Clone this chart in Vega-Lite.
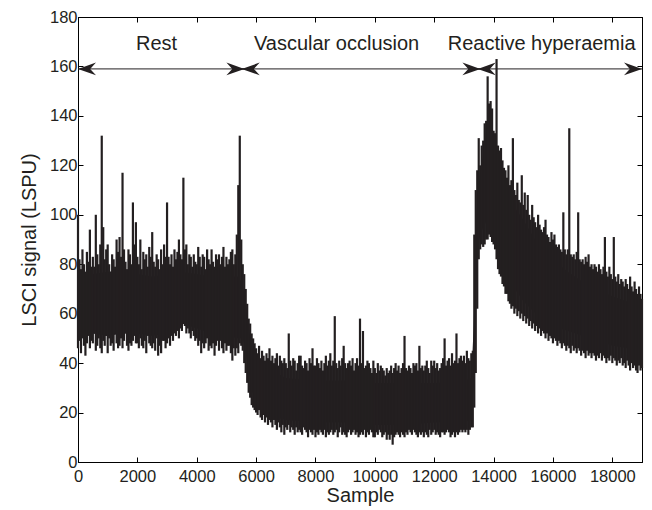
{
"$schema": "https://vega.github.io/schema/vega-lite/v6.json",
"width": 564, "height": 445,
"autosize": {"type": "none"},
"padding": {"left": 78, "top": 17, "right": 10, "bottom": 48},
"background": "white",
"config": {
  "view": {"stroke": "#000", "strokeWidth": 1},
  "axis": {"grid": false, "domainColor": "#000", "tickColor": "#000", "tickSize": -5, "labelFont": "Liberation Sans", "labelFontSize": 16.5, "labelColor": "#231f20", "titleFont": "Liberation Sans", "titleFontSize": 20, "titleFontWeight": "normal", "titleColor": "#231f20"}
},
"datasets": {
"signal": [
{"s":0,"lo":46,"hi":100},{"s":50,"lo":49,"hi":82},{"s":100,"lo":44,"hi":78},{"s":150,"lo":50,"hi":86},{"s":200,"lo":47,"hi":80},{"s":250,"lo":43,"hi":77},{"s":300,"lo":48,"hi":85},{"s":350,"lo":51,"hi":81},{"s":400,"lo":46,"hi":94},{"s":450,"lo":49,"hi":79},
{"s":500,"lo":48,"hi":83},{"s":550,"lo":52,"hi":79},{"s":600,"lo":45,"hi":100},{"s":650,"lo":47,"hi":84},{"s":700,"lo":50,"hi":80},{"s":750,"lo":46,"hi":88},{"s":800,"lo":44,"hi":132},{"s":850,"lo":49,"hi":95},{"s":900,"lo":47,"hi":82},{"s":950,"lo":51,"hi":86},
{"s":1000,"lo":44,"hi":88},{"s":1050,"lo":50,"hi":80},{"s":1100,"lo":47,"hi":77},{"s":1150,"lo":48,"hi":84},{"s":1200,"lo":45,"hi":82},{"s":1250,"lo":52,"hi":79},{"s":1300,"lo":48,"hi":90},{"s":1350,"lo":46,"hi":85},{"s":1400,"lo":47,"hi":91},{"s":1450,"lo":50,"hi":83},
{"s":1500,"lo":46,"hi":117},{"s":1550,"lo":49,"hi":86},{"s":1600,"lo":52,"hi":81},{"s":1650,"lo":47,"hi":78},{"s":1700,"lo":45,"hi":86},{"s":1750,"lo":48,"hi":84},{"s":1800,"lo":47,"hi":80},{"s":1850,"lo":49,"hi":105},{"s":1900,"lo":51,"hi":88},{"s":1950,"lo":48,"hi":97},
{"s":2000,"lo":48,"hi":83},{"s":2050,"lo":46,"hi":80},{"s":2100,"lo":50,"hi":90},{"s":2150,"lo":47,"hi":78},{"s":2200,"lo":46,"hi":85},{"s":2250,"lo":49,"hi":82},{"s":2300,"lo":44,"hi":84},{"s":2350,"lo":51,"hi":79},{"s":2400,"lo":48,"hi":87},{"s":2450,"lo":47,"hi":83},
{"s":2500,"lo":46,"hi":93},{"s":2550,"lo":48,"hi":81},{"s":2600,"lo":45,"hi":79},{"s":2650,"lo":50,"hi":84},{"s":2700,"lo":43,"hi":82},{"s":2750,"lo":47,"hi":78},{"s":2800,"lo":44,"hi":86},{"s":2850,"lo":49,"hi":80},{"s":2900,"lo":49,"hi":88},{"s":2950,"lo":46,"hi":83},
{"s":3000,"lo":48,"hi":105},{"s":3050,"lo":50,"hi":83},{"s":3100,"lo":47,"hi":80},{"s":3150,"lo":51,"hi":84},{"s":3200,"lo":49,"hi":79},{"s":3250,"lo":52,"hi":86},{"s":3300,"lo":51,"hi":82},{"s":3350,"lo":53,"hi":85},{"s":3400,"lo":50,"hi":90},{"s":3450,"lo":54,"hi":84},
{"s":3500,"lo":53,"hi":82},{"s":3550,"lo":56,"hi":115},{"s":3600,"lo":55,"hi":86},{"s":3650,"lo":52,"hi":88},{"s":3700,"lo":54,"hi":80},{"s":3750,"lo":52,"hi":84},{"s":3800,"lo":50,"hi":83},{"s":3850,"lo":53,"hi":79},{"s":3900,"lo":51,"hi":84},{"s":3950,"lo":49,"hi":81},
{"s":4000,"lo":50,"hi":80},{"s":4050,"lo":47,"hi":87},{"s":4100,"lo":49,"hi":83},{"s":4150,"lo":44,"hi":79},{"s":4200,"lo":48,"hi":84},{"s":4250,"lo":46,"hi":83},{"s":4300,"lo":48,"hi":78},{"s":4350,"lo":50,"hi":86},{"s":4400,"lo":45,"hi":82},{"s":4450,"lo":47,"hi":80},
{"s":4500,"lo":46,"hi":86},{"s":4550,"lo":48,"hi":81},{"s":4600,"lo":43,"hi":79},{"s":4650,"lo":47,"hi":84},{"s":4700,"lo":49,"hi":82},{"s":4750,"lo":45,"hi":84},{"s":4800,"lo":49,"hi":80},{"s":4850,"lo":46,"hi":83},{"s":4900,"lo":44,"hi":87},{"s":4950,"lo":48,"hi":79},
{"s":5000,"lo":45,"hi":83},{"s":5050,"lo":47,"hi":80},{"s":5100,"lo":47,"hi":82},{"s":5150,"lo":44,"hi":85},{"s":5200,"lo":41,"hi":86},{"s":5250,"lo":46,"hi":80},{"s":5300,"lo":43,"hi":84},{"s":5350,"lo":46,"hi":92},{"s":5400,"lo":44,"hi":112},{"s":5450,"lo":48,"hi":132},
{"s":5500,"lo":47,"hi":90},{"s":5550,"lo":45,"hi":80},{"s":5600,"lo":40,"hi":76},{"s":5650,"lo":36,"hi":70},{"s":5700,"lo":32,"hi":64},{"s":5750,"lo":28,"hi":58},{"s":5800,"lo":26,"hi":56},{"s":5850,"lo":23,"hi":52},{"s":5900,"lo":22,"hi":50},{"s":5950,"lo":21,"hi":48},
{"s":6000,"lo":20,"hi":46},{"s":6050,"lo":19,"hi":44},{"s":6100,"lo":21,"hi":47},{"s":6150,"lo":18,"hi":42},{"s":6200,"lo":17,"hi":45},{"s":6250,"lo":19,"hi":43},{"s":6300,"lo":16,"hi":41},{"s":6350,"lo":18,"hi":44},{"s":6400,"lo":15,"hi":42},{"s":6450,"lo":17,"hi":46},
{"s":6500,"lo":16,"hi":41},{"s":6550,"lo":14,"hi":43},{"s":6600,"lo":17,"hi":40},{"s":6650,"lo":15,"hi":42},{"s":6700,"lo":13,"hi":44},{"s":6750,"lo":16,"hi":39},{"s":6800,"lo":14,"hi":43},{"s":6850,"lo":12,"hi":41},{"s":6900,"lo":15,"hi":40},{"s":6950,"lo":11,"hi":42},
{"s":7000,"lo":14,"hi":40},{"s":7050,"lo":13,"hi":38},{"s":7100,"lo":15,"hi":52},{"s":7150,"lo":12,"hi":41},{"s":7200,"lo":14,"hi":39},{"s":7250,"lo":13,"hi":42},{"s":7300,"lo":11,"hi":41},{"s":7350,"lo":14,"hi":37},{"s":7400,"lo":12,"hi":40},{"s":7450,"lo":13,"hi":43},
{"s":7500,"lo":12,"hi":43},{"s":7550,"lo":11,"hi":39},{"s":7600,"lo":14,"hi":38},{"s":7650,"lo":13,"hi":41},{"s":7700,"lo":12,"hi":40},{"s":7750,"lo":10,"hi":37},{"s":7800,"lo":13,"hi":42},{"s":7850,"lo":12,"hi":40},{"s":7900,"lo":11,"hi":46},{"s":7950,"lo":13,"hi":39},
{"s":8000,"lo":10,"hi":39},{"s":8050,"lo":12,"hi":42},{"s":8100,"lo":11,"hi":40},{"s":8150,"lo":13,"hi":38},{"s":8200,"lo":12,"hi":41},{"s":8250,"lo":11,"hi":37},{"s":8300,"lo":13,"hi":40},{"s":8350,"lo":10,"hi":43},{"s":8400,"lo":12,"hi":39},{"s":8450,"lo":11,"hi":41},
{"s":8500,"lo":12,"hi":44},{"s":8550,"lo":13,"hi":39},{"s":8600,"lo":11,"hi":41},{"s":8650,"lo":12,"hi":59},{"s":8700,"lo":13,"hi":40},{"s":8750,"lo":10,"hi":38},{"s":8800,"lo":12,"hi":41},{"s":8850,"lo":14,"hi":39},{"s":8900,"lo":11,"hi":42},{"s":8950,"lo":12,"hi":47},
{"s":9000,"lo":11,"hi":40},{"s":9050,"lo":10,"hi":38},{"s":9100,"lo":12,"hi":40},{"s":9150,"lo":13,"hi":41},{"s":9200,"lo":11,"hi":39},{"s":9250,"lo":12,"hi":42},{"s":9300,"lo":13,"hi":37},{"s":9350,"lo":11,"hi":40},{"s":9400,"lo":12,"hi":42},{"s":9450,"lo":10,"hi":39},
{"s":9500,"lo":11,"hi":58},{"s":9550,"lo":12,"hi":40},{"s":9600,"lo":11,"hi":53},{"s":9650,"lo":13,"hi":38},{"s":9700,"lo":10,"hi":39},{"s":9750,"lo":12,"hi":41},{"s":9800,"lo":11,"hi":40},{"s":9850,"lo":13,"hi":38},{"s":9900,"lo":12,"hi":36},{"s":9950,"lo":10,"hi":41},
{"s":10000,"lo":10,"hi":38},{"s":10050,"lo":12,"hi":36},{"s":10100,"lo":11,"hi":40},{"s":10150,"lo":13,"hi":37},{"s":10200,"lo":12,"hi":39},{"s":10250,"lo":10,"hi":38},{"s":10300,"lo":11,"hi":37},{"s":10350,"lo":12,"hi":35},{"s":10400,"lo":9,"hi":38},{"s":10450,"lo":11,"hi":36},
{"s":10500,"lo":9,"hi":37},{"s":10550,"lo":11,"hi":39},{"s":10600,"lo":7,"hi":36},{"s":10650,"lo":10,"hi":38},{"s":10700,"lo":11,"hi":40},{"s":10750,"lo":12,"hi":37},{"s":10800,"lo":11,"hi":39},{"s":10850,"lo":10,"hi":36},{"s":10900,"lo":12,"hi":38},{"s":10950,"lo":11,"hi":40},
{"s":11000,"lo":10,"hi":51},{"s":11050,"lo":12,"hi":38},{"s":11100,"lo":11,"hi":37},{"s":11150,"lo":13,"hi":39},{"s":11200,"lo":12,"hi":38},{"s":11250,"lo":11,"hi":36},{"s":11300,"lo":13,"hi":40},{"s":11350,"lo":12,"hi":39},{"s":11400,"lo":11,"hi":40},{"s":11450,"lo":10,"hi":37},
{"s":11500,"lo":12,"hi":47},{"s":11550,"lo":11,"hi":38},{"s":11600,"lo":12,"hi":39},{"s":11650,"lo":10,"hi":37},{"s":11700,"lo":12,"hi":39},{"s":11750,"lo":11,"hi":41},{"s":11800,"lo":10,"hi":38},{"s":11850,"lo":13,"hi":36},{"s":11900,"lo":11,"hi":41},{"s":11950,"lo":12,"hi":39},
{"s":12000,"lo":13,"hi":41},{"s":12050,"lo":11,"hi":38},{"s":12100,"lo":12,"hi":40},{"s":12150,"lo":11,"hi":37},{"s":12200,"lo":10,"hi":38},{"s":12250,"lo":12,"hi":40},{"s":12300,"lo":12,"hi":42},{"s":12350,"lo":11,"hi":50},{"s":12400,"lo":12,"hi":39},{"s":12450,"lo":13,"hi":41},
{"s":12500,"lo":12,"hi":42},{"s":12550,"lo":10,"hi":39},{"s":12600,"lo":11,"hi":44},{"s":12650,"lo":12,"hi":40},{"s":12700,"lo":10,"hi":41},{"s":12750,"lo":12,"hi":52},{"s":12800,"lo":11,"hi":40},{"s":12850,"lo":12,"hi":42},{"s":12900,"lo":13,"hi":43},{"s":12950,"lo":12,"hi":41},
{"s":13000,"lo":13,"hi":43},{"s":13050,"lo":12,"hi":40},{"s":13100,"lo":13,"hi":45},{"s":13150,"lo":11,"hi":42},{"s":13200,"lo":13,"hi":41},{"s":13250,"lo":14,"hi":44},
{"s":13300,"lo":14,"hi":45},{"s":13350,"lo":22,"hi":92},{"s":13400,"lo":36,"hi":110},{"s":13450,"lo":62,"hi":118},{"s":13500,"lo":82,"hi":131},{"s":13550,"lo":86,"hi":120},{"s":13600,"lo":88,"hi":128},{"s":13650,"lo":87,"hi":130},{"s":13700,"lo":88,"hi":137},{"s":13750,"lo":90,"hi":138},
{"s":13800,"lo":90,"hi":156},{"s":13850,"lo":92,"hi":145},{"s":13900,"lo":91,"hi":146},{"s":13950,"lo":89,"hi":143},{"s":14000,"lo":88,"hi":134},{"s":14050,"lo":86,"hi":133},{"s":14100,"lo":82,"hi":163},{"s":14150,"lo":78,"hi":128},{"s":14200,"lo":76,"hi":126},{"s":14250,"lo":75,"hi":127},
{"s":14300,"lo":72,"hi":122},{"s":14350,"lo":71,"hi":119},{"s":14400,"lo":68,"hi":118},{"s":14450,"lo":68,"hi":115},{"s":14500,"lo":65,"hi":120},{"s":14550,"lo":64,"hi":112},{"s":14600,"lo":62,"hi":114},{"s":14650,"lo":63,"hi":131},{"s":14700,"lo":60,"hi":110},{"s":14750,"lo":62,"hi":108},
{"s":14800,"lo":59,"hi":113},{"s":14850,"lo":61,"hi":106},{"s":14900,"lo":58,"hi":105},{"s":14950,"lo":60,"hi":116},{"s":15000,"lo":57,"hi":104},{"s":15050,"lo":59,"hi":109},{"s":15100,"lo":56,"hi":102},{"s":15150,"lo":58,"hi":108},{"s":15200,"lo":55,"hi":100},{"s":15250,"lo":57,"hi":98},
{"s":15300,"lo":54,"hi":104},{"s":15350,"lo":56,"hi":99},{"s":15400,"lo":53,"hi":97},{"s":15450,"lo":55,"hi":95},{"s":15500,"lo":52,"hi":100},{"s":15550,"lo":54,"hi":96},{"s":15600,"lo":51,"hi":94},{"s":15650,"lo":53,"hi":93},{"s":15700,"lo":52,"hi":95},{"s":15750,"lo":50,"hi":98},
{"s":15800,"lo":52,"hi":92},{"s":15850,"lo":49,"hi":91},{"s":15900,"lo":51,"hi":89},{"s":15950,"lo":50,"hi":93},{"s":16000,"lo":48,"hi":90},{"s":16050,"lo":50,"hi":92},{"s":16100,"lo":49,"hi":88},{"s":16150,"lo":47,"hi":87},{"s":16200,"lo":49,"hi":88},{"s":16250,"lo":48,"hi":86},
{"s":16300,"lo":46,"hi":85},{"s":16350,"lo":48,"hi":101},{"s":16400,"lo":47,"hi":86},{"s":16450,"lo":45,"hi":84},{"s":16500,"lo":47,"hi":86},{"s":16550,"lo":46,"hi":135},{"s":16600,"lo":44,"hi":84},{"s":16650,"lo":47,"hi":83},{"s":16700,"lo":45,"hi":84},{"s":16750,"lo":46,"hi":82},
{"s":16800,"lo":44,"hi":85},{"s":16850,"lo":46,"hi":101},{"s":16900,"lo":45,"hi":82},{"s":16950,"lo":43,"hi":81},{"s":17000,"lo":45,"hi":82},{"s":17050,"lo":44,"hi":80},{"s":17100,"lo":42,"hi":83},{"s":17150,"lo":45,"hi":81},{"s":17200,"lo":43,"hi":84},{"s":17250,"lo":44,"hi":79},
{"s":17300,"lo":42,"hi":80},{"s":17350,"lo":44,"hi":78},{"s":17400,"lo":43,"hi":80},{"s":17450,"lo":41,"hi":79},{"s":17500,"lo":43,"hi":77},{"s":17550,"lo":42,"hi":80},{"s":17600,"lo":44,"hi":78},{"s":17650,"lo":41,"hi":76},{"s":17700,"lo":43,"hi":79},{"s":17750,"lo":42,"hi":91},
{"s":17800,"lo":40,"hi":77},{"s":17850,"lo":42,"hi":75},{"s":17900,"lo":41,"hi":79},{"s":17950,"lo":43,"hi":76},{"s":18000,"lo":40,"hi":74},{"s":18050,"lo":42,"hi":91},{"s":18100,"lo":41,"hi":75},{"s":18150,"lo":39,"hi":73},{"s":18200,"lo":41,"hi":76},{"s":18250,"lo":40,"hi":72},
{"s":18300,"lo":42,"hi":74},{"s":18350,"lo":39,"hi":73},{"s":18400,"lo":40,"hi":71},{"s":18450,"lo":38,"hi":74},{"s":18500,"lo":41,"hi":72},{"s":18550,"lo":39,"hi":70},{"s":18600,"lo":37,"hi":75},{"s":18650,"lo":40,"hi":71},{"s":18700,"lo":38,"hi":69},{"s":18750,"lo":39,"hi":73},
{"s":18800,"lo":37,"hi":70},{"s":18850,"lo":36,"hi":68},{"s":18900,"lo":39,"hi":71},{"s":18950,"lo":37,"hi":68},{"s":19000,"lo":38,"hi":66}
],
"core": [
{"s":0,"lo":52,"hi":76},{"s":500,"lo":52,"hi":76},{"s":1000,"lo":51,"hi":77},{"s":1500,"lo":52,"hi":77},{"s":2000,"lo":52,"hi":76},{"s":2500,"lo":51,"hi":75},{"s":3000,"lo":52,"hi":76},{"s":3500,"lo":56,"hi":77},{"s":4000,"lo":54,"hi":76},{"s":4500,"lo":52,"hi":75},
{"s":5000,"lo":51,"hi":75},{"s":5400,"lo":50,"hi":75},{"s":5550,"lo":50,"hi":72},{"s":5650,"lo":44,"hi":64},{"s":5750,"lo":36,"hi":55},{"s":5850,"lo":29,"hi":47},{"s":6000,"lo":24,"hi":41},{"s":6300,"lo":21,"hi":38},{"s":6700,"lo":18,"hi":36},{"s":7000,"lo":17,"hi":34},
{"s":8000,"lo":16,"hi":33},{"s":9000,"lo":16,"hi":33},{"s":10000,"lo":15,"hi":32},{"s":11000,"lo":15,"hi":32},{"s":12000,"lo":16,"hi":32},{"s":13000,"lo":16,"hi":33},{"s":13250,"lo":17,"hi":34},{"s":13330,"lo":30,"hi":55},{"s":13420,"lo":72,"hi":100},{"s":13520,"lo":90,"hi":115},
{"s":13650,"lo":95,"hi":125},{"s":13800,"lo":98,"hi":138},{"s":13950,"lo":95,"hi":135},{"s":14100,"lo":88,"hi":125},{"s":14300,"lo":80,"hi":115},{"s":14600,"lo":72,"hi":105},{"s":15000,"lo":65,"hi":98},{"s":15500,"lo":59,"hi":88},{"s":16000,"lo":55,"hi":82},{"s":16500,"lo":53,"hi":77},
{"s":17000,"lo":51,"hi":73},{"s":17500,"lo":49,"hi":70},{"s":18000,"lo":47,"hi":67},{"s":18500,"lo":46,"hi":65},{"s":19000,"lo":44,"hi":63}
],
"arrows": [
{"a":0,"b":5606,"m":2647,"lab":"Rest"},
{"a":5515,"b":13557,"m":8711,"lab":"Vascular occlusion"},
{"a":13466,"b":19000,"m":15620,"lab":"Reactive hyperaemia"}
]
},
"resolve": {"axis": {"x": "independent", "y": "independent"}},
"layer": [
{"data": {"name": "core"},
 "mark": {"type": "area", "color": "#231f20", "opacity": 1},
 "encoding": {
  "x": {"field": "s", "type": "quantitative", "axis": null},
  "y": {"field": "lo", "type": "quantitative", "axis": null},
  "y2": {"field": "hi"}
 }},
{"data": {"name": "signal"},
 "mark": {"type": "rule", "color": "#231f20", "strokeWidth": 2.2},
 "encoding": {
  "x": {"field": "s", "type": "quantitative", "scale": {"domain": [0, 19000], "nice": false, "zero": false},
        "axis": {"orient": "bottom", "values": [0,2000,4000,6000,8000,10000,12000,14000,16000,18000], "format": "d", "title": "Sample", "labelPadding": 11, "titlePadding": 1, "labelFlush": false}},
  "y": {"field": "lo", "type": "quantitative", "scale": {"domain": [0, 180], "nice": false},
        "axis": {"orient": "left", "values": [0,20,40,60,80,100,120,140,160,180], "title": "LSCI signal (LSPU)", "labelPadding": 6, "titlePadding": 10}},
  "y2": {"field": "hi"}
 }},
{"data": {"name": "arrows"},
 "mark": {"type": "rule", "color": "#231f20", "strokeWidth": 1},
 "encoding": {
  "x": {"field": "a", "type": "quantitative", "axis": {"orient": "top", "labels": false, "title": null, "values": [0,2000,4000,6000,8000,10000,12000,14000,16000,18000]}},
  "x2": {"field": "b"},
  "y": {"datum": 159, "type": "quantitative", "axis": {"orient": "right", "labels": false, "title": null, "values": [0,20,40,60,80,100,120,140,160,180]}}
 }},
{"data": {"name": "arrows"},
 "mark": {"type": "point", "shape": "M0,0L2,-0.7L1.35,0L2,0.7Z", "size": 324, "filled": true, "color": "#231f20", "opacity": 1, "strokeWidth": 0},
 "encoding": {
  "x": {"field": "a", "type": "quantitative", "axis": null},
  "y": {"datum": 159, "type": "quantitative", "axis": null}
 }},
{"data": {"name": "arrows"},
 "mark": {"type": "point", "shape": "M0,0L-2,-0.7L-1.35,0L-2,0.7Z", "size": 324, "filled": true, "color": "#231f20", "opacity": 1, "strokeWidth": 0},
 "encoding": {
  "x": {"field": "b", "type": "quantitative", "axis": null},
  "y": {"datum": 159, "type": "quantitative", "axis": null}
 }},
{"data": {"name": "arrows"},
 "mark": {"type": "text", "font": "Liberation Sans", "fontSize": 20, "color": "#231f20", "align": "center", "baseline": "alphabetic"},
 "encoding": {
  "x": {"field": "m", "type": "quantitative", "axis": null},
  "y": {"datum": 166.5, "type": "quantitative", "axis": null},
  "text": {"field": "lab"}
 }}
]
}
